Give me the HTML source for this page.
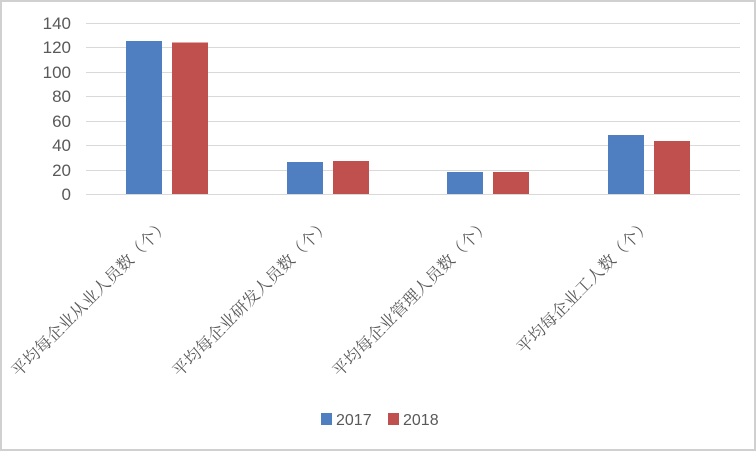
<!DOCTYPE html>
<html><head><meta charset="utf-8"><style>
html,body{margin:0;padding:0;background:#fff;}
svg{display:block;}
</style></head><body>
<svg width="756" height="451" xmlns="http://www.w3.org/2000/svg">
<rect x="0" y="0" width="756" height="451" fill="#fff"/>
<rect x="1" y="1" width="754" height="449" fill="none" stroke="#d0d0d0" stroke-width="2"/>
<g stroke="#d9d9d9" stroke-width="1">
<line x1="86" y1="23.5" x2="740" y2="23.5"/>
<line x1="86" y1="47.5" x2="740" y2="47.5"/>
<line x1="86" y1="72.5" x2="740" y2="72.5"/>
<line x1="86" y1="96.5" x2="740" y2="96.5"/>
<line x1="86" y1="121.5" x2="740" y2="121.5"/>
<line x1="86" y1="145.5" x2="740" y2="145.5"/>
<line x1="86" y1="170.5" x2="740" y2="170.5"/>
<line x1="86" y1="194.5" x2="740" y2="194.5"/>
</g>
<g font-family="Liberation Sans, sans-serif" font-size="17" fill="#595959" text-anchor="end">
<text x="71" y="29">140</text>
<text x="71" y="53">120</text>
<text x="71" y="78">100</text>
<text x="71" y="102">80</text>
<text x="71" y="127">60</text>
<text x="71" y="151">40</text>
<text x="71" y="176">20</text>
<text x="71" y="200">0</text>
</g>
<g fill="#4f7fc0">
<rect x="126" y="41" width="36" height="153"/>
<rect x="287" y="162" width="36" height="32"/>
<rect x="447" y="172" width="36" height="22"/>
<rect x="608" y="135" width="36" height="59"/>
</g>
<g fill="#c0504d">
<rect x="172" y="42.5" width="36" height="151.5"/>
<rect x="333" y="161" width="36" height="33"/>
<rect x="493" y="172" width="36" height="22"/>
<rect x="654" y="141" width="36" height="53"/>
</g>
<g font-family="Liberation Serif, 'Noto Serif CJK SC', serif" font-size="16.5" fill="#595959" text-anchor="end">
<text transform="translate(170,226) rotate(-45)">平均每企业从业人员数（个）</text>
<text transform="translate(331,226) rotate(-45)">平均每企业研发人员数（个）</text>
<text transform="translate(491,226) rotate(-45)">平均每企业管理人员数（个）</text>
<text transform="translate(652,226) rotate(-45)">平均每企业工人数（个）</text>
</g>
<rect x="321" y="413" width="11" height="12" fill="#4f7fc0"/>
<rect x="388" y="413" width="11" height="12" fill="#c0504d"/>
<g font-family="Liberation Sans, sans-serif" font-size="16" fill="#595959">
<text x="336" y="425">2017</text>
<text x="403" y="425">2018</text>
</g>
</svg>
</body></html>
